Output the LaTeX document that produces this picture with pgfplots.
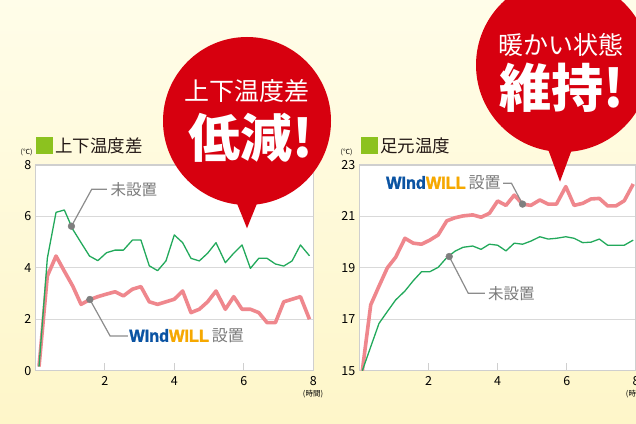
\documentclass[border=0pt]{standalone}
\usepackage{pgfplots}
\pgfplotsset{compat=1.18}
\usepackage{graphicx}
\usepackage{fontspec}
\setmainfont{Noto Sans CJK JP}
\newfontfamily\logofont{Liberation Sans}[BoldFeatures={FakeBold=1.8}]
\definecolor{bgtop}{HTML}{FFFDE9}
\definecolor{bgbot}{HTML}{FEF6C9}
\definecolor{framegray}{HTML}{CFCFCF}
\definecolor{gridgray}{HTML}{D9D9D9}
\definecolor{pinkline}{HTML}{EF878D}
\definecolor{greenline}{HTML}{22A95B}
\definecolor{sqgreen}{HTML}{8CC21F}
\definecolor{callred}{HTML}{D7000F}
\definecolor{markgray}{HTML}{7F7F7F}
\definecolor{txtgray}{HTML}{7A7A7A}
\definecolor{logoblue}{HTML}{0A53A3}
\definecolor{logoorange}{HTML}{F6A800}
\definecolor{titletext}{HTML}{231815}
\tikzset{leader/.style={draw=markgray!90, line width=1.2pt}}
\newcommand{\logo}{\scalebox{0.93}[1]{\logofont\bfseries\fontsize{17.5}{18}\selectfont\textcolor{logoblue}{WInd}\textcolor{logoorange}{WILL}}}
\pgfplotsset{
  chartbase/.style={
    anchor=south west, scale only axis, clip=false,
    xmin=0, xmax=8, xtick={2,4,6,8},
    axis background/.style={fill=white},
    axis line style={draw=framegray, line width=1.3pt},
    ymajorgrids, grid style={draw=gridgray, line width=1pt},
    tick align=inside, xtick pos=bottom, ytick pos=left,
    major tick length=8pt,
    xtick style={draw=framegray, line width=1.1pt},
    ytick style={draw=none},
    /pgf/number format/assume math mode=true,
    ticklabel style={font=\fontsize{12.5}{13}\selectfont, text=black},
    yticklabel style={anchor=east, inner sep=0pt, xshift=-3.8pt},
    xticklabel style={anchor=north, inner sep=0pt, yshift=-6pt},
  },
}
\begin{document}
\begin{tikzpicture}
\path[use as bounding box] (0pt,0pt) rectangle (636pt,423pt);
\clip (0pt,0pt) rectangle (636pt,423pt);
\shade[top color=bgtop, bottom color=bgbot] (0pt,0pt) rectangle (636pt,423pt);

% ---------- left chart ----------
\begin{axis}[chartbase, at={(35.3pt,52.3pt)}, width=278pt, height=205.7pt,
  ymin=0, ymax=8, ytick={0,2,4,6,8}]
\addplot[pinkline, line width=3.6pt, line join=round] coordinates {
(0.107,0.16) (0.346,3.68) (0.597,4.46) (0.836,3.87) (1.078,3.29) (1.317,2.58)
(1.56,2.76) (1.80,2.88) (2.05,2.98) (2.297,3.07) (2.536,2.91) (2.795,3.17)
(3.04,3.27) (3.28,2.68) (3.52,2.58) (3.76,2.68) (4.0,2.78) (4.24,3.10)
(4.48,2.26) (4.72,2.39) (4.96,2.68) (5.2,3.10) (5.47,2.39) (5.71,2.88)
(5.95,2.39) (6.19,2.39) (6.43,2.26) (6.67,1.87) (6.91,1.87) (7.15,2.68)
(7.39,2.78) (7.63,2.88) (7.89,2.00)};
\addplot[greenline, line width=1.3pt, line join=round] coordinates {
(0.107,0.16) (0.346,4.37) (0.597,6.16) (0.836,6.25) (1.078,5.50) (1.317,4.98)
(1.56,4.46) (1.80,4.28) (2.05,4.59) (2.297,4.69) (2.536,4.69) (2.795,5.08)
(3.04,5.08) (3.28,4.08) (3.52,3.89) (3.76,4.27) (4.0,5.28) (4.24,4.98)
(4.48,4.37) (4.72,4.27) (4.96,4.57) (5.2,4.98) (5.47,4.20) (5.71,4.57)
(5.95,4.89) (6.19,3.98) (6.43,4.37) (6.67,4.37) (6.91,4.15) (7.15,4.07)
(7.39,4.27) (7.63,4.89) (7.89,4.47)};
\draw[leader] (axis cs:1.04,5.62) -- (axis cs:1.625,7.06) -- (axis cs:2.058,7.06);
\draw[leader] (axis cs:1.57,2.77) -- (axis cs:2.153,1.35) -- (axis cs:2.663,1.35);
\addplot[only marks, mark=*, mark size=3.4pt, markgray] coordinates {(1.04,5.62) (1.57,2.77)};
\node[anchor=west, inner sep=0pt, text=txtgray, font=\fontsize{15.5}{16}\selectfont] at (axis cs:2.16,7.06) {未設置};
\node[anchor=west, inner sep=0pt] at (axis cs:2.70,1.35) {\logo\hspace{3pt}{\color{txtgray}\fontsize{16}{16}\selectfont 設置}};
\end{axis}

% ---------- right chart ----------
\begin{axis}[chartbase, at={(359.3pt,52.3pt)}, width=276.7pt, height=205.7pt,
  ymin=15, ymax=23, ytick={15,17,19,21,23}]
\addplot[pinkline, line width=3.6pt, line join=round] coordinates {
(0.087,15.0) (0.33,17.56) (0.57,18.29) (0.81,19.0) (1.05,19.41) (1.32,20.15)
(1.56,19.96) (1.8,19.92) (2.04,20.08) (2.28,20.28) (2.53,20.83) (2.77,20.95)
(3.0,21.02) (3.28,21.06) (3.52,20.97) (3.76,21.12) (4.0,21.6) (4.24,21.43)
(4.48,21.83) (4.72,21.48) (4.96,21.43) (5.22,21.64) (5.46,21.48) (5.7,21.48)
(5.97,22.16) (6.21,21.43) (6.46,21.51) (6.7,21.68) (6.94,21.7) (7.18,21.41)
(7.42,21.41) (7.66,21.61) (7.92,22.26)};
\addplot[greenline, line width=1.3pt, line join=round] coordinates {
(0.087,15.0) (0.33,15.93) (0.57,16.84) (0.81,17.3) (1.05,17.75) (1.32,18.1)
(1.56,18.5) (1.8,18.85) (2.04,18.85) (2.28,19.02) (2.53,19.4) (2.77,19.65)
(3.0,19.8) (3.28,19.85) (3.52,19.72) (3.76,19.92) (4.0,19.88) (4.24,19.66)
(4.48,19.96) (4.72,19.92) (4.96,20.04) (5.22,20.21) (5.46,20.12) (5.7,20.15)
(5.97,20.21) (6.21,20.15) (6.46,19.98) (6.7,20.0) (6.94,20.12) (7.18,19.88)
(7.42,19.88) (7.66,19.88) (7.92,20.08)};
\draw[leader] (axis cs:4.72,21.48) -- (axis cs:4.40,22.29) -- (axis cs:4.16,22.29);
\draw[leader] (axis cs:2.6,19.44) -- (axis cs:3.15,18.01) -- (axis cs:3.63,18.01);
\addplot[only marks, mark=*, mark size=3.4pt, markgray] coordinates {(4.72,21.48) (2.6,19.44)};
\node[anchor=west, inner sep=0pt, text=txtgray, font=\fontsize{15.5}{16}\selectfont] at (axis cs:3.72,18.01) {未設置};
\node[anchor=west, inner sep=0pt] at (axis cs:0.77,22.3) {\logo\hspace{3pt}{\color{txtgray}\fontsize{16}{16}\selectfont 設置}};
\end{axis}

% ---------- titles ----------
\fill[sqgreen] (36pt,269pt) rectangle (53pt,286pt);
\node[anchor=west, inner sep=0pt, text=titletext, font=\fontsize{17.5}{18}\selectfont] at (55pt,277.5pt) {上下温度差};
\node[inner sep=0pt, font=\fontsize{7}{7}\selectfont] at (26.5pt,271pt) {(℃)};
\fill[sqgreen] (360.7pt,269pt) rectangle (377.7pt,286pt);
\node[anchor=west, inner sep=0pt, text=titletext, font=\fontsize{17.5}{18}\selectfont] at (380pt,277.5pt) {足元温度};
\node[inner sep=0pt, font=\fontsize{7}{7}\selectfont] at (346.5pt,271pt) {(℃)};
\node[inner sep=0pt, font=\fontsize{7.5}{8}\selectfont] at (313pt,28.5pt) {(時間)};
\node[inner sep=0pt, font=\fontsize{7.5}{8}\selectfont] at (636pt,28.5pt) {(時間)};

% ---------- callouts ----------
\fill[callred] (247pt,302pt) circle (84pt);
\fill[callred] (232pt,232pt) -- (262pt,232pt) -- (247pt,194.7pt) -- cycle;
\node[text=white, inner sep=0pt, font=\fontsize{25}{26}\selectfont] at (247pt,331.5pt) {上下温度差};
\node[text=white, inner sep=0pt, font=\bfseries\fontsize{52}{54}\selectfont] at (251pt,285pt) {低減!};
\fill[callred] (563pt,358pt) circle (87pt);
\fill[callred] (545pt,282pt) -- (575pt,282pt) -- (560pt,241.3pt) -- cycle;
\node[text=white, inner sep=0pt, font=\fontsize{25}{26}\selectfont] at (561pt,378pt) {暖かい状態};
\node[text=white, inner sep=0pt, font=\bfseries\fontsize{52}{54}\selectfont] at (562pt,335pt) {維持!};
\end{tikzpicture}
\end{document}
